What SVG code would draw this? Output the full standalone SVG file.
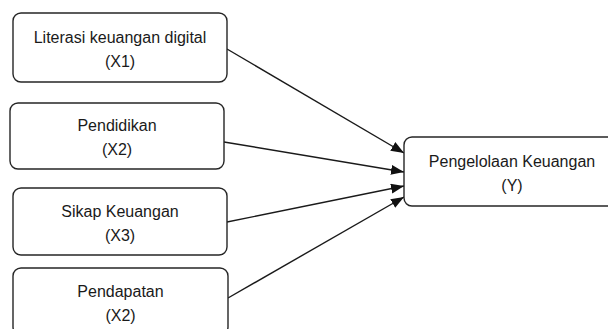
<svg xmlns="http://www.w3.org/2000/svg" width="608" height="329" viewBox="0 0 608 329">
  <style>
    .box { fill: #ffffff; stroke: #262626; stroke-width: 1.4; }
    .lbl { font-family: "Liberation Sans", Arial, sans-serif; font-size: 16px; fill: #1a1a1a; text-anchor: middle; }
    .edge { stroke: #1a1a1a; stroke-width: 1.4; fill: none; marker-end: url(#arrow); }
  </style>
  <defs>
    <marker id="arrow" markerUnits="userSpaceOnUse" markerWidth="14" markerHeight="12" refX="13" refY="5" orient="auto">
      <path d="M0,0 L13,5 L0,10 Z" fill="#111111"/>
    </marker>
  </defs>
  <rect width="608" height="329" fill="#ffffff"/>

  <g id="connectors">
    <line class="edge" x1="227" y1="49" x2="404" y2="153"/>
    <line class="edge" x1="224" y1="142" x2="404" y2="172"/>
    <line class="edge" x1="227" y1="222" x2="404" y2="186"/>
    <line class="edge" x1="228" y1="298" x2="404" y2="197"/>
  </g>

  <g id="x1">
    <rect class="box" x="13" y="13" width="214" height="69" rx="8"/>
    <text class="lbl" x="120" y="43">Literasi keuangan digital</text>
    <text class="lbl" x="120" y="67">(X1)</text>
  </g>

  <g id="x2">
    <rect class="box" x="10" y="103" width="214" height="66" rx="8"/>
    <text class="lbl" x="117" y="131">Pendidikan</text>
    <text class="lbl" x="117" y="155">(X2)</text>
  </g>

  <g id="x3">
    <rect class="box" x="13" y="188" width="214" height="67" rx="8"/>
    <text class="lbl" x="120" y="217">Sikap Keuangan</text>
    <text class="lbl" x="120" y="241">(X3)</text>
  </g>

  <g id="x4">
    <rect class="box" x="13" y="268" width="215" height="67" rx="8"/>
    <text class="lbl" x="120.5" y="297">Pendapatan</text>
    <text class="lbl" x="120.5" y="321">(X2)</text>
  </g>

  <g id="y">
    <rect class="box" x="404" y="137" width="216" height="69" rx="8"/>
    <text class="lbl" x="512" y="167">Pengelolaan Keuangan</text>
    <text class="lbl" x="512" y="191">(Y)</text>
  </g>
</svg>
